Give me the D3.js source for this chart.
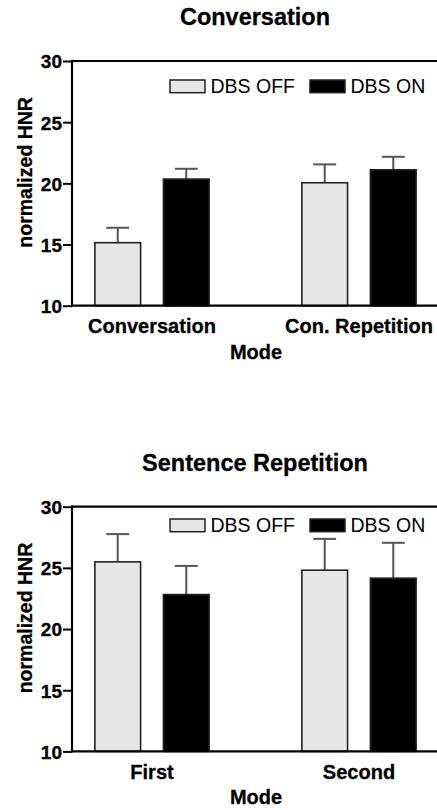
<!DOCTYPE html>
<html><head><meta charset="utf-8">
<script src="https://cdn.jsdelivr.net/npm/d3@7"></script>
<style>body{margin:0;background:#fff}svg{display:block}text{font-family:"Liberation Sans",Arial,sans-serif}</style>
</head><body>
<script>
const series = ["DBS OFF", "DBS ON"];
const yTicks = [10, 15, 20, 25, 30];
const titles = ["Conversation", "Sentence Repetition"];
const categoriesTop = ["Conversation", "Con. Repetition"];
const meansTop = [[15.15, 20.35], [20.05, 21.11]];
const errTop = [[1.22, 0.84], [1.5, 1.06]];
const categoriesBottom = ["First", "Second"];
const meansBottom = [[25.49, 22.82], [24.81, 24.16]];
const errBottom = [[2.27, 2.34], [2.56, 2.89]];
const xLabel = "Mode";
const yLabel = "normalized HNR";

const W = 437, H = 810;
const svg = d3.select("body").append("svg").attr("width", W).attr("height", H);
const colors = {"DBS OFF": "#e6e6e6", "DBS ON": "#000"};

function panel(top, title, cats, means, errs, legendOff) {
  const left = 72, right = 439, bottom = top + 244.7;
  const g = svg.append("g");
  const y = d3.scaleLinear().domain([10, 30]).range([bottom, top]);
  const x = d3.scaleBand().domain(cats).range([left, right]).paddingInner(0.448).paddingOuter(0.1105);
  const xs = d3.scaleBand().domain(series).range([0, x.bandwidth()]).paddingInner(0.333).paddingOuter(0);

  g.append("text").attr("x", 255).attr("y", top - 36).attr("text-anchor", "middle")
    .attr("font-weight", "bold").attr("font-size", 23.5).attr("stroke", "#000").attr("stroke-width", 0.3).text(title);

  cats.forEach((c, i) => {
    series.forEach((s, j) => {
      const v = means[i][j], e = errs[i][j];
      const bx = x(c) + xs(s), bw = xs.bandwidth(), cx = bx + bw / 2;
      g.append("line").attr("x1", cx).attr("x2", cx).attr("y1", y(v)).attr("y2", y(v + e))
        .attr("stroke", "#555").attr("stroke-width", 2);
      g.append("line").attr("x1", cx - bw / 4).attr("x2", cx + bw / 4).attr("y1", y(v + e)).attr("y2", y(v + e))
        .attr("stroke", "#555").attr("stroke-width", 2);
      g.append("rect").attr("x", bx).attr("y", y(v)).attr("width", bw).attr("height", y(10) - y(v))
        .attr("fill", colors[s]).attr("stroke", "#222").attr("stroke-width", 1.6);
    });
  });

  const ya = g.append("g").attr("transform", `translate(${left},0)`)
    .call(d3.axisLeft(y).tickValues(yTicks).tickSize(9).tickPadding(1).tickFormat(d3.format("d")));
  ya.select(".domain").remove();
  ya.selectAll(".tick line").attr("stroke", "#000").attr("stroke-width", 2);
  ya.selectAll(".tick text").attr("font-size", 19).attr("font-weight", "bold").attr("fill", "#000")
    .attr("stroke", "#000").attr("stroke-width", 0.3)
    .attr("font-family", "'Liberation Sans',Arial,sans-serif").attr("dy", "0.36em");
  g.append("line").attr("x1", left).attr("x2", left).attr("y1", top - 1).attr("y2", bottom + 1).attr("stroke", "#000").attr("stroke-width", 2.2);
  g.append("line").attr("x1", left - 1).attr("x2", W).attr("y1", top).attr("y2", top).attr("stroke", "#000").attr("stroke-width", 2.2);
  g.append("line").attr("x1", left - 1).attr("x2", W).attr("y1", bottom).attr("y2", bottom).attr("stroke", "#000").attr("stroke-width", 2.2);

  cats.forEach(c => {
    g.append("text").attr("x", x(c) + x.bandwidth() / 2).attr("y", bottom + 27.5).attr("text-anchor", "middle")
      .attr("font-weight", "bold").attr("font-size", 20).attr("stroke", "#000").attr("stroke-width", 0.3).text(c);
  });
  g.append("text").attr("x", 256).attr("y", bottom + 53).attr("text-anchor", "middle")
    .attr("font-weight", "bold").attr("font-size", 20).attr("stroke", "#000").attr("stroke-width", 0.3).text(xLabel);
  g.append("text").attr("transform", `translate(32,${(top + bottom) / 2 - 11}) rotate(-90)`)
    .attr("text-anchor", "middle").attr("font-weight", "bold").attr("font-size", 19.5)
    .attr("stroke", "#000").attr("stroke-width", 0.3).text(yLabel);

  const ly = top + legendOff;
  const lx = [170, 310];
  series.forEach((s, j) => {
    g.append("rect").attr("x", lx[j]).attr("y", ly).attr("width", 35).attr("height", 12.7)
      .attr("fill", colors[s]).attr("stroke", "#222").attr("stroke-width", 1.5);
    g.append("text").attr("x", lx[j] + 40.5).attr("y", ly + 12.8).attr("font-size", 19.5).text(s);
  });
}

panel(61, titles[0], categoriesTop, meansTop, errTop, 19);
panel(506.7, titles[1], categoriesBottom, meansBottom, errBottom, 12.3);
</script>
</body></html>
